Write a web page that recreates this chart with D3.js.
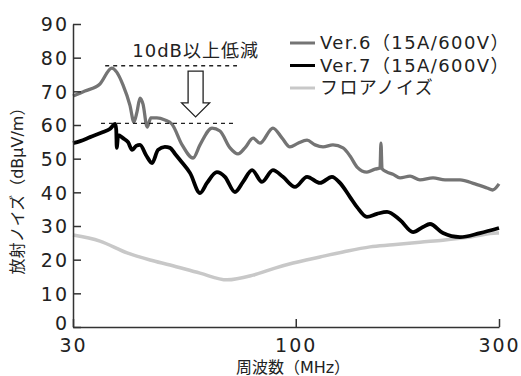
<!DOCTYPE html>
<html><head><meta charset="utf-8">
<script src="https://cdn.jsdelivr.net/npm/d3@7"></script>
<style>
body{margin:0;background:#fff;}
text{font-family:"DejaVu Sans","Noto Sans CJK JP",sans-serif;fill:#222;}
</style></head>
<body><svg id="c" width="521" height="376"></svg>
<script>
// ---- data ----
const seriesNames = ["Ver.6（15A/600V）", "Ver.7（15A/600V）", "フロアノイズ"];
const seriesColors = ["#747474", "#000000", "#c8c8c8"];
const xTicks = [30, 100, 300];
const yTicks = [0, 10, 20, 30, 40, 50, 60, 70, 80, 90];

const ver6Freq = [30,32.0,34.7,37.0,38.0,39.3,40.8,41.7,42.4,43.1,43.8,44.8,45.7,47.2,49.3,51.2,54.1,57.4,59.6,63.6,66.4,70.1,73.2,76.0,79.4,82.4,88.4,92.9,96.9,101.2,106.3,111.0,115.9,122.3,129.1,134.1,139.3,146.9,153.5,157.7,158.5,159.4,163.8,169.1,175.7,185.5,195.7,210,224.1,243.0,263.5,281.2,290,300];
const ver6dB   = [68.6,70.1,72.2,76.9,75.7,71.9,65.9,60.9,63.9,68.0,66.2,59.4,62.1,62.1,61.5,60.3,54.1,50.2,54.1,59.1,58.2,53.2,51.4,53.2,56.1,54.6,59.1,56.1,53.5,54.6,55.5,54.1,53.5,54.1,53.2,50.8,47.5,46.0,46.9,47.2,54.6,47.0,46.0,45.4,44.3,44.8,43.7,44.3,43.7,43.7,42.5,41.3,40.7,42.5];

const ver7Freq = [30,31.2,32.9,35.3,36.6,37.7,37.9,38.0,38.3,39.3,40.4,41.3,42.2,43.1,44.5,46.0,47.5,49.3,50.7,52.1,53.5,56.5,59.6,61.9,65.3,68.2,72.0,75.2,79.0,83.3,88.4,93.3,99.6,106.3,114.0,121.6,127.0,134.1,139.3,146.9,155.1,163.8,175.7,188.5,198.9,206.6,221.6,243.0,270.7,300];
const ver7dB   = [54.6,55.2,56.4,57.9,58.8,60.3,58.5,53.2,57.0,56.1,54.9,52.6,53.8,54.1,51.1,48.7,52.6,53.5,53.2,51.4,49.6,45.7,39.8,42.8,46.0,44.6,40.1,43.1,46.6,43.1,46.6,44.6,41.6,44.6,42.8,44.6,42.8,38.6,35.6,32.7,33.6,34.2,31.8,28.2,29.7,30.6,27.9,26.7,27.9,29.4];

const floorFreq = [30,34.7,40.2,45.5,50.7,59.6,69.0,79.4,89.4,98.6,114.0,129.1,149.4,169.1,195.7,221.6,256.5,296.8,300];
const floordB   = [27.3,25.5,22.0,19.9,18.4,16.0,14.0,15.4,17.5,19.0,20.8,22.3,23.8,24.4,25.2,25.8,26.7,27.9,27.9];

// annotation values
const annoText = "10dB以上低減";
const annoTopLevel = 77.6, annoTopRange = [35.7, 72.8];
const annoLowLevel = 60.5, annoLowRange = [34.9, 71.6];
const arrowFreq = 58.2, arrowTop = 76, arrowTip = 62.4, annoTextLevel = 82;

// ---- chart ----
const svg = d3.select("#c");
const x = d3.scaleLog().domain([30, 300]).range([73, 499]);
const y = d3.scaleLinear().domain([0, 90]).range([327, 24]);

const series = [
  {f: floorFreq, v: floordB, c: seriesColors[2], w: 3.5},
  {f: ver6Freq, v: ver6dB, c: seriesColors[0], w: 3.3},
  {f: ver7Freq, v: ver7dB, c: seriesColors[1], w: 3.8}
];
const line = d3.line().x(d => x(d[0])).y(d => y(d[1])).curve(d3.curveMonotoneX);
series.forEach(s => {
  svg.append("path").datum(s.f.map((f, i) => [f, s.v[i]]))
    .attr("d", line).attr("fill", "none").attr("stroke", s.c)
    .attr("stroke-width", s.w).attr("stroke-linejoin", "round");
});

// axes
const yAxis = svg.append("g").attr("transform", "translate(73,0)")
  .call(d3.axisLeft(y).tickValues(yTicks).tickSizeInner(-8).tickSizeOuter(0).tickPadding(4));
const xAxis = svg.append("g").attr("transform", "translate(0,327)")
  .call(d3.axisBottom(x).tickValues(xTicks).tickFormat(d3.format("d")).tickSizeInner(-8).tickSizeOuter(0).tickPadding(12));
[yAxis, xAxis].forEach(g => {
  g.select(".domain").attr("stroke", "#333").attr("stroke-width", 1.5);
  g.selectAll(".tick line").attr("stroke", "#333").attr("stroke-width", 1.5);
  g.selectAll(".tick text").attr("font-size", 19).attr("font-family", "DejaVu Sans")
    .attr("letter-spacing", 2).attr("fill", "#222");
});
yAxis.selectAll(".tick text").attr("dy", d => d === 0 ? "0.12em" : "0.36em");

// axis titles
svg.append("text").attr("x", 293).attr("y", 373).attr("text-anchor", "middle")
  .attr("font-size", 16).text("周波数（MHz）");
svg.append("text").attr("transform", "translate(23,187) rotate(-90)").attr("text-anchor", "middle")
  .attr("font-size", 16).text("放射ノイズ（dBμV/m）");

// legend
const lg = svg.append("g");
seriesNames.forEach((n, i) => {
  const yy = 43 + i * 22.5;
  lg.append("line").attr("x1", 290).attr("x2", 315).attr("y1", yy).attr("y2", yy)
    .attr("stroke", seriesColors[i]).attr("stroke-width", 3);
  lg.append("text").attr("x", 320).attr("y", yy).attr("dy", "0.36em")
    .attr("font-size", 18).attr("letter-spacing", 1.4).text(n);
});

// annotation
svg.append("line").attr("x1", x(annoTopRange[0])).attr("x2", x(annoTopRange[1]))
  .attr("y1", y(annoTopLevel)).attr("y2", y(annoTopLevel))
  .attr("stroke", "#222").attr("stroke-width", 1.3).attr("stroke-dasharray", "4,4");
svg.append("line").attr("x1", x(annoLowRange[0])).attr("x2", x(annoLowRange[1]))
  .attr("y1", y(annoLowLevel)).attr("y2", y(annoLowLevel))
  .attr("stroke", "#222").attr("stroke-width", 1.3).attr("stroke-dasharray", "4,4");
svg.append("text").attr("x", x(arrowFreq)).attr("y", y(annoTextLevel)).attr("dy", "0.36em")
  .attr("text-anchor", "middle").attr("font-size", 18).attr("letter-spacing", 1).text(annoText);
const ax = x(arrowFreq), at = y(arrowTop), tip = y(arrowTip);
const headY = tip - 14;
svg.append("path")
  .attr("d", `M${ax-7.5},${at} L${ax+7.5},${at} L${ax+7.5},${headY} L${ax+14},${headY} L${ax},${tip} L${ax-14},${headY} L${ax-7.5},${headY} Z`)
  .attr("fill", "#fff").attr("stroke", "#222").attr("stroke-width", 1.3);
</script></body></html>
